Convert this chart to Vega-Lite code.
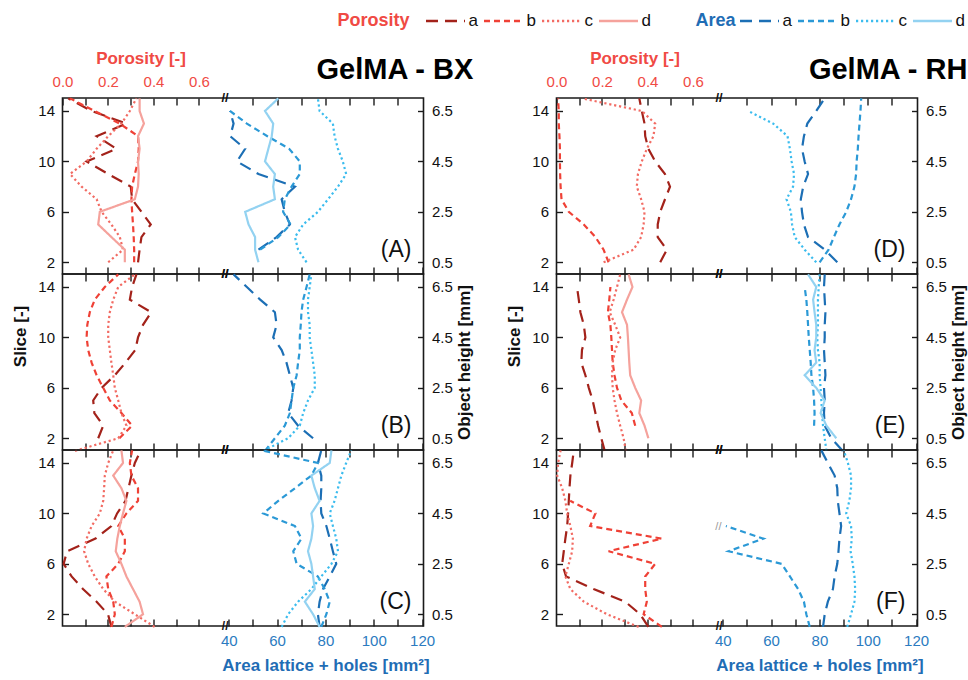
{
"$schema": "https://vega.github.io/schema/vega-lite/v6.json",
"padding": {"left": 10.5, "top": 0, "right": 0, "bottom": 0},
"config": {
 "font": "Liberation Sans",
 "view": {"stroke": "#1a1a1a", "strokeWidth": 1.6},
 "axis": {"domain": false, "grid": false, "ticks": true, "tickSize": -7, "tickColor": "#1a1a1a", "tickWidth": 1.4, "labelFont": "Liberation Sans", "labelFontSize": 15, "labelColor": "#111", "labelFlush": false, "labelOverlap": false, "labelPadding": 10, "titleFont": "Liberation Sans", "titleFontSize": 17, "titleFontWeight": "bold", "titleColor": "#111"},
 "legend": {"orient": "none", "direction": "horizontal", "titleOrient": "left", "titleAnchor": "middle", "titleBaseline": "middle", "titleFont": "Liberation Sans", "titleFontSize": 18, "titleFontWeight": "bold", "titlePadding": 14, "symbolType": "stroke", "symbolSize": 1521, "symbolStrokeWidth": 2.6, "labelFont": "Liberation Sans", "labelFontSize": 17, "labelColor": "#111", "labelOffset": 2, "columnPadding": 0},
 "title": {"font": "Liberation Sans"}
},
"datasets": {
"por": [
{"p":"A","s":"a","sl":15,"v":0.025},{"p":"A","s":"a","sl":14,"v":0.128},{"p":"A","s":"a","sl":13,"v":0.281},{"p":"A","s":"a","sl":12,"v":0.15},{"p":"A","s":"a","sl":11,"v":0.237},{"p":"A","s":"a","sl":10,"v":0.106},{"p":"A","s":"a","sl":9,"v":0.201},{"p":"A","s":"a","sl":8,"v":0.3},{"p":"A","s":"a","sl":7,"v":0.306},{"p":"A","s":"a","sl":6,"v":0.347},{"p":"A","s":"a","sl":5,"v":0.388},{"p":"A","s":"a","sl":4,"v":0.347},{"p":"A","s":"a","sl":3,"v":0.339},{"p":"A","s":"a","sl":2,"v":0.332},
{"p":"A","s":"b","sl":15,"v":0.033},{"p":"A","s":"b","sl":14,"v":0.141},{"p":"A","s":"b","sl":13,"v":0.252},{"p":"A","s":"b","sl":12,"v":0.332},{"p":"A","s":"b","sl":11,"v":0.335},{"p":"A","s":"b","sl":10,"v":0.332},{"p":"A","s":"b","sl":9,"v":0.318},{"p":"A","s":"b","sl":8,"v":0.306},{"p":"A","s":"b","sl":7,"v":0.303},{"p":"A","s":"b","sl":6,"v":0.306},{"p":"A","s":"b","sl":5,"v":0.31},{"p":"A","s":"b","sl":4,"v":0.313},{"p":"A","s":"b","sl":3,"v":0.315},{"p":"A","s":"b","sl":2,"v":0.315},
{"p":"A","s":"c","sl":15,"v":0.325},{"p":"A","s":"c","sl":14,"v":0.296},{"p":"A","s":"c","sl":13,"v":0.259},{"p":"A","s":"c","sl":12,"v":0.201},{"p":"A","s":"c","sl":11,"v":0.15},{"p":"A","s":"c","sl":10,"v":0.106},{"p":"A","s":"c","sl":9,"v":0.033},{"p":"A","s":"c","sl":8,"v":0.084},{"p":"A","s":"c","sl":7,"v":0.15},{"p":"A","s":"c","sl":6,"v":0.172},{"p":"A","s":"c","sl":5,"v":0.215},{"p":"A","s":"c","sl":4,"v":0.252},{"p":"A","s":"c","sl":3,"v":0.266},{"p":"A","s":"c","sl":2,"v":0.201},
{"p":"A","s":"d","sl":15,"v":0.339},{"p":"A","s":"d","sl":14,"v":0.339},{"p":"A","s":"d","sl":13,"v":0.358},{"p":"A","s":"d","sl":12,"v":0.332},{"p":"A","s":"d","sl":11,"v":0.339},{"p":"A","s":"d","sl":10,"v":0.332},{"p":"A","s":"d","sl":9,"v":0.335},{"p":"A","s":"d","sl":8,"v":0.332},{"p":"A","s":"d","sl":7,"v":0.318},{"p":"A","s":"d","sl":6,"v":0.164},{"p":"A","s":"d","sl":5,"v":0.157},{"p":"A","s":"d","sl":4,"v":0.215},{"p":"A","s":"d","sl":3,"v":0.274},{"p":"A","s":"d","sl":2,"v":0.274},
{"p":"B","s":"a","sl":15,"v":0.325},{"p":"B","s":"a","sl":14,"v":0.306},{"p":"B","s":"a","sl":13,"v":0.296},{"p":"B","s":"a","sl":12,"v":0.39},{"p":"B","s":"a","sl":11,"v":0.354},{"p":"B","s":"a","sl":10,"v":0.332},{"p":"B","s":"a","sl":9,"v":0.32},{"p":"B","s":"a","sl":8,"v":0.277},{"p":"B","s":"a","sl":7,"v":0.23},{"p":"B","s":"a","sl":6,"v":0.172},{"p":"B","s":"a","sl":5,"v":0.135},{"p":"B","s":"a","sl":4,"v":0.14},{"p":"B","s":"a","sl":3,"v":0.179},{"p":"B","s":"a","sl":2,"v":0.157},
{"p":"B","s":"b","sl":15,"v":0.245},{"p":"B","s":"b","sl":14,"v":0.186},{"p":"B","s":"b","sl":13,"v":0.142},{"p":"B","s":"b","sl":12,"v":0.12},{"p":"B","s":"b","sl":11,"v":0.109},{"p":"B","s":"b","sl":10,"v":0.106},{"p":"B","s":"b","sl":9,"v":0.113},{"p":"B","s":"b","sl":8,"v":0.128},{"p":"B","s":"b","sl":7,"v":0.15},{"p":"B","s":"b","sl":6,"v":0.179},{"p":"B","s":"b","sl":5,"v":0.208},{"p":"B","s":"b","sl":4,"v":0.259},{"p":"B","s":"b","sl":3,"v":0.306},{"p":"B","s":"b","sl":2,"v":0.25},
{"p":"B","s":"c","sl":15,"v":0.318},{"p":"B","s":"c","sl":14,"v":0.245},{"p":"B","s":"c","sl":13,"v":0.223},{"p":"B","s":"c","sl":12,"v":0.208},{"p":"B","s":"c","sl":11,"v":0.201},{"p":"B","s":"c","sl":10,"v":0.201},{"p":"B","s":"c","sl":9,"v":0.208},{"p":"B","s":"c","sl":8,"v":0.215},{"p":"B","s":"c","sl":7,"v":0.223},{"p":"B","s":"c","sl":6,"v":0.23},{"p":"B","s":"c","sl":5,"v":0.245},{"p":"B","s":"c","sl":4,"v":0.259},{"p":"B","s":"c","sl":3,"v":0.281},{"p":"B","s":"c","sl":2,"v":0.245},{"p":"B","s":"c","sl":1,"v":0.055},
{"p":"C","s":"a","sl":15,"v":0.344},{"p":"C","s":"a","sl":14,"v":0.318},{"p":"C","s":"a","sl":13,"v":0.303},{"p":"C","s":"a","sl":12,"v":0.29},{"p":"C","s":"a","sl":11,"v":0.277},{"p":"C","s":"a","sl":10,"v":0.24},{"p":"C","s":"a","sl":9,"v":0.215},{"p":"C","s":"a","sl":8,"v":0.145},{"p":"C","s":"a","sl":7,"v":0.02},{"p":"C","s":"a","sl":6,"v":0.005},{"p":"C","s":"a","sl":5,"v":0.04},{"p":"C","s":"a","sl":4,"v":0.09},{"p":"C","s":"a","sl":3,"v":0.15},{"p":"C","s":"a","sl":2,"v":0.2},{"p":"C","s":"a","sl":1,"v":0.215},
{"p":"C","s":"b","sl":15,"v":0.306},{"p":"C","s":"b","sl":14,"v":0.296},{"p":"C","s":"b","sl":13,"v":0.303},{"p":"C","s":"b","sl":12,"v":0.332},{"p":"C","s":"b","sl":11,"v":0.332},{"p":"C","s":"b","sl":10,"v":0.281},{"p":"C","s":"b","sl":9,"v":0.245},{"p":"C","s":"b","sl":8,"v":0.274},{"p":"C","s":"b","sl":7,"v":0.274},{"p":"C","s":"b","sl":6,"v":0.245},{"p":"C","s":"b","sl":5,"v":0.193},{"p":"C","s":"b","sl":4,"v":0.201},{"p":"C","s":"b","sl":3,"v":0.223},{"p":"C","s":"b","sl":2,"v":0.23},{"p":"C","s":"b","sl":1,"v":0.215},
{"p":"C","s":"c","sl":15,"v":0.223},{"p":"C","s":"c","sl":14,"v":0.201},{"p":"C","s":"c","sl":13,"v":0.186},{"p":"C","s":"c","sl":12,"v":0.183},{"p":"C","s":"c","sl":11,"v":0.179},{"p":"C","s":"c","sl":10,"v":0.164},{"p":"C","s":"c","sl":9,"v":0.128},{"p":"C","s":"c","sl":8,"v":0.106},{"p":"C","s":"c","sl":7,"v":0.095},{"p":"C","s":"c","sl":6,"v":0.113},{"p":"C","s":"c","sl":5,"v":0.142},{"p":"C","s":"c","sl":4,"v":0.179},{"p":"C","s":"c","sl":3,"v":0.23},{"p":"C","s":"c","sl":2,"v":0.318},{"p":"C","s":"c","sl":1,"v":0.405},
{"p":"C","s":"d","sl":15,"v":0.259},{"p":"C","s":"d","sl":14,"v":0.266},{"p":"C","s":"d","sl":13,"v":0.223},{"p":"C","s":"d","sl":12,"v":0.259},{"p":"C","s":"d","sl":11,"v":0.281},{"p":"C","s":"d","sl":10,"v":0.266},{"p":"C","s":"d","sl":9,"v":0.252},{"p":"C","s":"d","sl":8,"v":0.241},{"p":"C","s":"d","sl":7,"v":0.234},{"p":"C","s":"d","sl":6,"v":0.259},{"p":"C","s":"d","sl":5,"v":0.281},{"p":"C","s":"d","sl":4,"v":0.31},{"p":"C","s":"d","sl":3,"v":0.339},{"p":"C","s":"d","sl":2,"v":0.354},{"p":"C","s":"d","sl":1,"v":0.274},
{"p":"D","s":"a","sl":15,"v":0.364},{"p":"D","s":"a","sl":14,"v":0.375},{"p":"D","s":"a","sl":13,"v":0.387},{"p":"D","s":"a","sl":12,"v":0.39},{"p":"D","s":"a","sl":11,"v":0.404},{"p":"D","s":"a","sl":10,"v":0.434},{"p":"D","s":"a","sl":9,"v":0.477},{"p":"D","s":"a","sl":8,"v":0.499},{"p":"D","s":"a","sl":7,"v":0.477},{"p":"D","s":"a","sl":6,"v":0.456},{"p":"D","s":"a","sl":5,"v":0.445},{"p":"D","s":"a","sl":4,"v":0.445},{"p":"D","s":"a","sl":3,"v":0.485},{"p":"D","s":"a","sl":2,"v":0.456},
{"p":"D","s":"b","sl":15,"v":0.007},{"p":"D","s":"b","sl":14,"v":0.01},{"p":"D","s":"b","sl":13,"v":0.01},{"p":"D","s":"b","sl":12,"v":0.013},{"p":"D","s":"b","sl":11,"v":0.015},{"p":"D","s":"b","sl":10,"v":0.015},{"p":"D","s":"b","sl":9,"v":0.016},{"p":"D","s":"b","sl":8,"v":0.018},{"p":"D","s":"b","sl":7,"v":0.022},{"p":"D","s":"b","sl":6,"v":0.054},{"p":"D","s":"b","sl":5,"v":0.12},{"p":"D","s":"b","sl":4,"v":0.171},{"p":"D","s":"b","sl":3,"v":0.207},{"p":"D","s":"b","sl":2,"v":0.229},
{"p":"D","s":"c","sl":15,"v":0.112},{"p":"D","s":"c","sl":14,"v":0.375},{"p":"D","s":"c","sl":13,"v":0.434},{"p":"D","s":"c","sl":12,"v":0.426},{"p":"D","s":"c","sl":11,"v":0.397},{"p":"D","s":"c","sl":10,"v":0.375},{"p":"D","s":"c","sl":9,"v":0.358},{"p":"D","s":"c","sl":8,"v":0.353},{"p":"D","s":"c","sl":7,"v":0.372},{"p":"D","s":"c","sl":6,"v":0.387},{"p":"D","s":"c","sl":5,"v":0.383},{"p":"D","s":"c","sl":4,"v":0.372},{"p":"D","s":"c","sl":3,"v":0.339},{"p":"D","s":"c","sl":2,"v":0.207},
{"p":"E","s":"a","sl":14,"v":0.09},{"p":"E","s":"a","sl":13,"v":0.098},{"p":"E","s":"a","sl":12,"v":0.105},{"p":"E","s":"a","sl":11,"v":0.12},{"p":"E","s":"a","sl":10,"v":0.127},{"p":"E","s":"a","sl":9,"v":0.112},{"p":"E","s":"a","sl":8,"v":0.109},{"p":"E","s":"a","sl":7,"v":0.127},{"p":"E","s":"a","sl":6,"v":0.142},{"p":"E","s":"a","sl":5,"v":0.159},{"p":"E","s":"a","sl":4,"v":0.171},{"p":"E","s":"a","sl":3,"v":0.183},{"p":"E","s":"a","sl":2,"v":0.197},{"p":"E","s":"a","sl":1,"v":0.212},
{"p":"E","s":"b","sl":14,"v":0.237},{"p":"E","s":"b","sl":13,"v":0.232},{"p":"E","s":"b","sl":12,"v":0.226},{"p":"E","s":"b","sl":11,"v":0.237},{"p":"E","s":"b","sl":10,"v":0.241},{"p":"E","s":"b","sl":9,"v":0.244},{"p":"E","s":"b","sl":8,"v":0.247},{"p":"E","s":"b","sl":7,"v":0.255},{"p":"E","s":"b","sl":6,"v":0.266},{"p":"E","s":"b","sl":5,"v":0.285},{"p":"E","s":"b","sl":4,"v":0.331},{"p":"E","s":"b","sl":3,"v":0.346},
{"p":"E","s":"c","sl":15,"v":0.28},{"p":"E","s":"c","sl":14,"v":0.266},{"p":"E","s":"c","sl":13,"v":0.251},{"p":"E","s":"c","sl":12,"v":0.234},{"p":"E","s":"c","sl":11,"v":0.258},{"p":"E","s":"c","sl":10,"v":0.28},{"p":"E","s":"c","sl":9,"v":0.258},{"p":"E","s":"c","sl":8,"v":0.247},{"p":"E","s":"c","sl":7,"v":0.244},{"p":"E","s":"c","sl":6,"v":0.247},{"p":"E","s":"c","sl":5,"v":0.255},{"p":"E","s":"c","sl":4,"v":0.266},{"p":"E","s":"c","sl":3,"v":0.28},{"p":"E","s":"c","sl":2,"v":0.295},{"p":"E","s":"c","sl":1,"v":0.305},
{"p":"E","s":"d","sl":15,"v":0.317},{"p":"E","s":"d","sl":14,"v":0.334},{"p":"E","s":"d","sl":13,"v":0.31},{"p":"E","s":"d","sl":12,"v":0.288},{"p":"E","s":"d","sl":11,"v":0.31},{"p":"E","s":"d","sl":10,"v":0.314},{"p":"E","s":"d","sl":9,"v":0.317},{"p":"E","s":"d","sl":8,"v":0.32},{"p":"E","s":"d","sl":7,"v":0.324},{"p":"E","s":"d","sl":6,"v":0.346},{"p":"E","s":"d","sl":5,"v":0.372},{"p":"E","s":"d","sl":4,"v":0.364},{"p":"E","s":"d","sl":3,"v":0.387},{"p":"E","s":"d","sl":2,"v":0.404},
{"p":"F","s":"a","sl":15,"v":0.076},{"p":"F","s":"a","sl":14,"v":0.069},{"p":"F","s":"a","sl":13,"v":0.061},{"p":"F","s":"a","sl":12,"v":0.057},{"p":"F","s":"a","sl":11,"v":0.054},{"p":"F","s":"a","sl":10,"v":0.051},{"p":"F","s":"a","sl":9,"v":0.047},{"p":"F","s":"a","sl":8,"v":0.039},{"p":"F","s":"a","sl":7,"v":0.032},{"p":"F","s":"a","sl":6,"v":0.025},{"p":"F","s":"a","sl":5,"v":0.042},{"p":"F","s":"a","sl":4,"v":0.163},{"p":"F","s":"a","sl":3,"v":0.302},{"p":"F","s":"a","sl":2,"v":0.368},{"p":"F","s":"a","sl":1,"v":0.404},
{"p":"F","s":"b","sl":11,"v":0.06},{"p":"F","s":"b","sl":10,"v":0.171},{"p":"F","s":"b","sl":9,"v":0.148},{"p":"F","s":"b","sl":8,"v":0.463},{"p":"F","s":"b","sl":7,"v":0.229},{"p":"F","s":"b","sl":6,"v":0.434},{"p":"F","s":"b","sl":5,"v":0.39},{"p":"F","s":"b","sl":4,"v":0.39},{"p":"F","s":"b","sl":3,"v":0.397},{"p":"F","s":"b","sl":2,"v":0.383},{"p":"F","s":"b","sl":1,"v":0.463},
{"p":"F","s":"c","sl":15,"v":0.018},{"p":"F","s":"c","sl":14,"v":0.007},{"p":"F","s":"c","sl":13,"v":0.003},{"p":"F","s":"c","sl":12,"v":0.025},{"p":"F","s":"c","sl":11,"v":0.039},{"p":"F","s":"c","sl":10,"v":0.047},{"p":"F","s":"c","sl":9,"v":0.061},{"p":"F","s":"c","sl":8,"v":0.072},{"p":"F","s":"c","sl":7,"v":0.069},{"p":"F","s":"c","sl":6,"v":0.054},{"p":"F","s":"c","sl":5,"v":0.039},{"p":"F","s":"c","sl":4,"v":0.061},{"p":"F","s":"c","sl":3,"v":0.12},{"p":"F","s":"c","sl":2,"v":0.222},{"p":"F","s":"c","sl":1,"v":0.361}
],
"area": [
{"p":"A","s":"a","sl":14,"v":40.5},{"p":"A","s":"a","sl":13,"v":42.0},{"p":"A","s":"a","sl":12,"v":40.6},{"p":"A","s":"a","sl":11,"v":46.8},{"p":"A","s":"a","sl":10,"v":43.4},{"p":"A","s":"a","sl":9,"v":52.3},{"p":"A","s":"a","sl":8,"v":67.4},{"p":"A","s":"a","sl":7,"v":61.9},{"p":"A","s":"a","sl":6,"v":63.2},{"p":"A","s":"a","sl":5,"v":65.3},{"p":"A","s":"a","sl":4,"v":59.8},{"p":"A","s":"a","sl":3,"v":52.3},
{"p":"A","s":"b","sl":14,"v":40.5},{"p":"A","s":"b","sl":13,"v":47.5},{"p":"A","s":"b","sl":12,"v":56.0},{"p":"A","s":"b","sl":11,"v":65.0},{"p":"A","s":"b","sl":10,"v":69.4},{"p":"A","s":"b","sl":9,"v":69.4},{"p":"A","s":"b","sl":8,"v":66.0},{"p":"A","s":"b","sl":7,"v":63.2},{"p":"A","s":"b","sl":6,"v":62.5},{"p":"A","s":"b","sl":5,"v":65.6},{"p":"A","s":"b","sl":4,"v":60.5},{"p":"A","s":"b","sl":3,"v":53.0},
{"p":"A","s":"c","sl":15,"v":76.9},{"p":"A","s":"c","sl":14,"v":77.6},{"p":"A","s":"c","sl":13,"v":83.1},{"p":"A","s":"c","sl":12,"v":83.8},{"p":"A","s":"c","sl":11,"v":85.2},{"p":"A","s":"c","sl":10,"v":87.2},{"p":"A","s":"c","sl":9,"v":88.6},{"p":"A","s":"c","sl":8,"v":85.2},{"p":"A","s":"c","sl":7,"v":81.1},{"p":"A","s":"c","sl":6,"v":76.9},{"p":"A","s":"c","sl":5,"v":70.8},{"p":"A","s":"c","sl":4,"v":67.4},{"p":"A","s":"c","sl":3,"v":68.7},{"p":"A","s":"c","sl":2,"v":72.2},
{"p":"A","s":"d","sl":15,"v":60.5},{"p":"A","s":"d","sl":14,"v":55.0},{"p":"A","s":"d","sl":13,"v":58.4},{"p":"A","s":"d","sl":12,"v":57.8},{"p":"A","s":"d","sl":11,"v":56.4},{"p":"A","s":"d","sl":10,"v":55.0},{"p":"A","s":"d","sl":9,"v":59.1},{"p":"A","s":"d","sl":8,"v":58.4},{"p":"A","s":"d","sl":7,"v":59.1},{"p":"A","s":"d","sl":6,"v":46.8},{"p":"A","s":"d","sl":5,"v":48.2},{"p":"A","s":"d","sl":4,"v":50.9},{"p":"A","s":"d","sl":3,"v":50.9},{"p":"A","s":"d","sl":2,"v":52.3},
{"p":"B","s":"a","sl":15,"v":42.0},{"p":"B","s":"a","sl":14,"v":47.5},{"p":"B","s":"a","sl":13,"v":53.0},{"p":"B","s":"a","sl":12,"v":59.1},{"p":"B","s":"a","sl":11,"v":59.8},{"p":"B","s":"a","sl":10,"v":58.4},{"p":"B","s":"a","sl":9,"v":61.9},{"p":"B","s":"a","sl":8,"v":63.9},{"p":"B","s":"a","sl":7,"v":65.3},{"p":"B","s":"a","sl":6,"v":66.7},{"p":"B","s":"a","sl":5,"v":66.0},{"p":"B","s":"a","sl":4,"v":64.6},{"p":"B","s":"a","sl":3,"v":68.7},{"p":"B","s":"a","sl":2,"v":74.9},
{"p":"B","s":"b","sl":15,"v":73.5},{"p":"B","s":"b","sl":14,"v":72.2},{"p":"B","s":"b","sl":13,"v":70.8},{"p":"B","s":"b","sl":12,"v":70.1},{"p":"B","s":"b","sl":11,"v":69.8},{"p":"B","s":"b","sl":10,"v":69.4},{"p":"B","s":"b","sl":9,"v":69.4},{"p":"B","s":"b","sl":8,"v":68.7},{"p":"B","s":"b","sl":7,"v":68.1},{"p":"B","s":"b","sl":6,"v":66.7},{"p":"B","s":"b","sl":5,"v":66.0},{"p":"B","s":"b","sl":4,"v":65.3},{"p":"B","s":"b","sl":3,"v":63.2},{"p":"B","s":"b","sl":2,"v":59.1},{"p":"B","s":"b","sl":1,"v":55.0},
{"p":"B","s":"c","sl":15,"v":74.2},{"p":"B","s":"c","sl":14,"v":73.5},{"p":"B","s":"c","sl":13,"v":72.8},{"p":"B","s":"c","sl":12,"v":72.8},{"p":"B","s":"c","sl":11,"v":73.5},{"p":"B","s":"c","sl":10,"v":73.5},{"p":"B","s":"c","sl":9,"v":74.2},{"p":"B","s":"c","sl":8,"v":74.9},{"p":"B","s":"c","sl":7,"v":75.6},{"p":"B","s":"c","sl":6,"v":75.6},{"p":"B","s":"c","sl":5,"v":72.8},{"p":"B","s":"c","sl":4,"v":70.8},{"p":"B","s":"c","sl":3,"v":69.4},{"p":"B","s":"c","sl":2,"v":64.6},{"p":"B","s":"c","sl":1,"v":54.3},
{"p":"C","s":"a","sl":15,"v":78.3},{"p":"C","s":"a","sl":14,"v":76.9},{"p":"C","s":"a","sl":13,"v":78.3},{"p":"C","s":"a","sl":12,"v":78.3},{"p":"C","s":"a","sl":11,"v":78.0},{"p":"C","s":"a","sl":10,"v":78.3},{"p":"C","s":"a","sl":9,"v":80.4},{"p":"C","s":"a","sl":8,"v":81.8},{"p":"C","s":"a","sl":7,"v":83.1},{"p":"C","s":"a","sl":6,"v":84.5},{"p":"C","s":"a","sl":5,"v":81.8},{"p":"C","s":"a","sl":4,"v":79.0},{"p":"C","s":"a","sl":3,"v":77.6},{"p":"C","s":"a","sl":2,"v":76.9},{"p":"C","s":"a","sl":1,"v":77.6},
{"p":"C","s":"b","sl":15,"v":53.7},{"p":"C","s":"b","sl":14,"v":76.9},{"p":"C","s":"b","sl":13,"v":74.2},{"p":"C","s":"b","sl":12,"v":67.4},{"p":"C","s":"b","sl":11,"v":60.5},{"p":"C","s":"b","sl":10,"v":54.3},{"p":"C","s":"b","sl":9,"v":67.4},{"p":"C","s":"b","sl":8,"v":70.1},{"p":"C","s":"b","sl":7,"v":66.7},{"p":"C","s":"b","sl":6,"v":68.1},{"p":"C","s":"b","sl":5,"v":76.9},{"p":"C","s":"b","sl":4,"v":79.7},{"p":"C","s":"b","sl":3,"v":81.8},{"p":"C","s":"b","sl":2,"v":80.4},{"p":"C","s":"b","sl":1,"v":78.3},
{"p":"C","s":"c","sl":15,"v":90.7},{"p":"C","s":"c","sl":14,"v":88.6},{"p":"C","s":"c","sl":13,"v":86.6},{"p":"C","s":"c","sl":12,"v":85.2},{"p":"C","s":"c","sl":11,"v":83.8},{"p":"C","s":"c","sl":10,"v":81.8},{"p":"C","s":"c","sl":9,"v":83.1},{"p":"C","s":"c","sl":8,"v":84.5},{"p":"C","s":"c","sl":7,"v":85.2},{"p":"C","s":"c","sl":6,"v":82.5},{"p":"C","s":"c","sl":5,"v":78.3},{"p":"C","s":"c","sl":4,"v":74.2},{"p":"C","s":"c","sl":3,"v":68.7},{"p":"C","s":"c","sl":2,"v":64.6},{"p":"C","s":"c","sl":1,"v":61.9},
{"p":"C","s":"d","sl":15,"v":82.5},{"p":"C","s":"d","sl":14,"v":81.8},{"p":"C","s":"d","sl":13,"v":74.2},{"p":"C","s":"d","sl":12,"v":75.6},{"p":"C","s":"d","sl":11,"v":77.6},{"p":"C","s":"d","sl":10,"v":74.2},{"p":"C","s":"d","sl":9,"v":74.9},{"p":"C","s":"d","sl":8,"v":74.2},{"p":"C","s":"d","sl":7,"v":72.8},{"p":"C","s":"d","sl":6,"v":74.2},{"p":"C","s":"d","sl":5,"v":74.9},{"p":"C","s":"d","sl":4,"v":75.6},{"p":"C","s":"d","sl":3,"v":71.5},{"p":"C","s":"d","sl":2,"v":74.9},{"p":"C","s":"d","sl":1,"v":77.6},
{"p":"D","s":"a","sl":15,"v":82.2},{"p":"D","s":"a","sl":14,"v":78.7},{"p":"D","s":"a","sl":13,"v":75.0},{"p":"D","s":"a","sl":12,"v":73.6},{"p":"D","s":"a","sl":11,"v":72.8},{"p":"D","s":"a","sl":10,"v":73.9},{"p":"D","s":"a","sl":9,"v":75.3},{"p":"D","s":"a","sl":8,"v":73.3},{"p":"D","s":"a","sl":7,"v":72.3},{"p":"D","s":"a","sl":6,"v":72.8},{"p":"D","s":"a","sl":5,"v":73.6},{"p":"D","s":"a","sl":4,"v":75.3},{"p":"D","s":"a","sl":3,"v":82.2},{"p":"D","s":"a","sl":2,"v":87.4},
{"p":"D","s":"b","sl":15,"v":97.3},{"p":"D","s":"b","sl":14,"v":97.0},{"p":"D","s":"b","sl":13,"v":96.6},{"p":"D","s":"b","sl":12,"v":96.2},{"p":"D","s":"b","sl":11,"v":95.9},{"p":"D","s":"b","sl":10,"v":95.4},{"p":"D","s":"b","sl":9,"v":95.2},{"p":"D","s":"b","sl":8,"v":94.5},{"p":"D","s":"b","sl":7,"v":93.1},{"p":"D","s":"b","sl":6,"v":91.1},{"p":"D","s":"b","sl":5,"v":88.3},{"p":"D","s":"b","sl":4,"v":86.0},{"p":"D","s":"b","sl":3,"v":83.8},{"p":"D","s":"b","sl":2,"v":80.1},
{"p":"D","s":"c","sl":14,"v":50.6},{"p":"D","s":"c","sl":13,"v":60.9},{"p":"D","s":"c","sl":12,"v":66.8},{"p":"D","s":"c","sl":11,"v":67.8},{"p":"D","s":"c","sl":10,"v":68.5},{"p":"D","s":"c","sl":9,"v":69.5},{"p":"D","s":"c","sl":8,"v":69.1},{"p":"D","s":"c","sl":7,"v":66.4},{"p":"D","s":"c","sl":6,"v":68.2},{"p":"D","s":"c","sl":5,"v":68.7},{"p":"D","s":"c","sl":4,"v":69.8},{"p":"D","s":"c","sl":3,"v":73.9},{"p":"D","s":"c","sl":2,"v":78.7},
{"p":"E","s":"a","sl":15,"v":82.2},{"p":"E","s":"a","sl":14,"v":81.9},{"p":"E","s":"a","sl":13,"v":82.2},{"p":"E","s":"a","sl":12,"v":82.5},{"p":"E","s":"a","sl":11,"v":82.2},{"p":"E","s":"a","sl":10,"v":82.2},{"p":"E","s":"a","sl":9,"v":81.9},{"p":"E","s":"a","sl":8,"v":82.2},{"p":"E","s":"a","sl":7,"v":82.5},{"p":"E","s":"a","sl":6,"v":81.9},{"p":"E","s":"a","sl":5,"v":82.2},{"p":"E","s":"a","sl":4,"v":81.9},{"p":"E","s":"a","sl":3,"v":82.2},{"p":"E","s":"a","sl":2,"v":84.9},{"p":"E","s":"a","sl":1,"v":89.7},
{"p":"E","s":"b","sl":14,"v":73.9},{"p":"E","s":"b","sl":13,"v":74.6},{"p":"E","s":"b","sl":12,"v":75.0},{"p":"E","s":"b","sl":11,"v":75.3},{"p":"E","s":"b","sl":10,"v":75.6},{"p":"E","s":"b","sl":9,"v":76.0},{"p":"E","s":"b","sl":8,"v":76.4},{"p":"E","s":"b","sl":7,"v":76.7},{"p":"E","s":"b","sl":6,"v":77.4},{"p":"E","s":"b","sl":5,"v":77.8},{"p":"E","s":"b","sl":4,"v":78.0},{"p":"E","s":"b","sl":3,"v":77.8},
{"p":"E","s":"c","sl":15,"v":80.1},{"p":"E","s":"c","sl":14,"v":79.7},{"p":"E","s":"c","sl":13,"v":79.4},{"p":"E","s":"c","sl":12,"v":79.4},{"p":"E","s":"c","sl":11,"v":79.4},{"p":"E","s":"c","sl":10,"v":79.1},{"p":"E","s":"c","sl":9,"v":79.4},{"p":"E","s":"c","sl":8,"v":80.1},{"p":"E","s":"c","sl":7,"v":80.1},{"p":"E","s":"c","sl":6,"v":80.5},{"p":"E","s":"c","sl":5,"v":80.8},{"p":"E","s":"c","sl":4,"v":81.1},{"p":"E","s":"c","sl":3,"v":81.5},{"p":"E","s":"c","sl":2,"v":82.2},{"p":"E","s":"c","sl":1,"v":82.9},
{"p":"E","s":"d","sl":15,"v":75.3},{"p":"E","s":"d","sl":14,"v":78.7},{"p":"E","s":"d","sl":13,"v":77.4},{"p":"E","s":"d","sl":12,"v":78.0},{"p":"E","s":"d","sl":11,"v":78.7},{"p":"E","s":"d","sl":10,"v":78.7},{"p":"E","s":"d","sl":9,"v":78.0},{"p":"E","s":"d","sl":8,"v":78.7},{"p":"E","s":"d","sl":7,"v":73.9},{"p":"E","s":"d","sl":6,"v":78.7},{"p":"E","s":"d","sl":5,"v":82.2},{"p":"E","s":"d","sl":4,"v":80.5},{"p":"E","s":"d","sl":3,"v":82.9},{"p":"E","s":"d","sl":2,"v":87.0},
{"p":"F","s":"a","sl":15,"v":80.8},{"p":"F","s":"a","sl":14,"v":83.5},{"p":"F","s":"a","sl":13,"v":86.3},{"p":"F","s":"a","sl":12,"v":87.4},{"p":"F","s":"a","sl":11,"v":87.6},{"p":"F","s":"a","sl":10,"v":88.3},{"p":"F","s":"a","sl":9,"v":89.0},{"p":"F","s":"a","sl":8,"v":88.3},{"p":"F","s":"a","sl":7,"v":87.9},{"p":"F","s":"a","sl":6,"v":87.4},{"p":"F","s":"a","sl":5,"v":86.3},{"p":"F","s":"a","sl":4,"v":85.6},{"p":"F","s":"a","sl":3,"v":83.5},{"p":"F","s":"a","sl":2,"v":82.2},{"p":"F","s":"a","sl":1,"v":81.5},
{"p":"F","s":"b","sl":9,"v":41.3},{"p":"F","s":"b","sl":8,"v":56.8},{"p":"F","s":"b","sl":7,"v":42.4},{"p":"F","s":"b","sl":6,"v":64.4},{"p":"F","s":"b","sl":5,"v":67.8},{"p":"F","s":"b","sl":4,"v":71.2},{"p":"F","s":"b","sl":3,"v":73.6},{"p":"F","s":"b","sl":2,"v":74.6},{"p":"F","s":"b","sl":1,"v":76.0},
{"p":"F","s":"c","sl":15,"v":90.1},{"p":"F","s":"c","sl":14,"v":91.8},{"p":"F","s":"c","sl":13,"v":93.1},{"p":"F","s":"c","sl":12,"v":93.1},{"p":"F","s":"c","sl":11,"v":92.4},{"p":"F","s":"c","sl":10,"v":91.1},{"p":"F","s":"c","sl":9,"v":93.1},{"p":"F","s":"c","sl":8,"v":93.4},{"p":"F","s":"c","sl":7,"v":92.9},{"p":"F","s":"c","sl":6,"v":93.8},{"p":"F","s":"c","sl":5,"v":94.5},{"p":"F","s":"c","sl":4,"v":94.8},{"p":"F","s":"c","sl":3,"v":94.5},{"p":"F","s":"c","sl":2,"v":93.1},{"p":"F","s":"c","sl":1,"v":91.5}
]
},
"columns": 2,
"spacing": {"row": 0, "column": 133},
"bounds": "flush",
"concat": [
{
 "title": {"text": "GelMA - BX", "anchor": "end", "fontSize": 29, "fontWeight": "bold", "color": "#000", "dx": 21, "dy": 36, "offset": 0},
 "width": 361, "height": 176,
 "resolve": {"scale": {"x": "independent", "y": "independent"}, "axis": {"x": "independent", "y": "independent"}},
 "layer": [
  {"data": {"name": "por"}, "resolve": {"axis": {"x": "independent"}}, "layer": [
   {"transform": [{"filter": "datum.p=='A' && (datum.s=='a'||datum.s=='b')"}], "mark": {"type": "line", "strokeWidth": 2.2},
    "encoding": {"x": {"field": "v", "type": "quantitative", "scale": {"domain": [0,1.587], "nice": false, "zero": false}, "axis": {"orient": "top", "values": [0,0.1,0.2,0.3,0.4,0.5,0.6], "labelExpr": "round(datum.value*10)%2==0 ? format(datum.value,'.1f') : ''", "labelColor": "#f04a44", "labelPadding": 16, "title": "Porosity [-]", "titleColor": "#f04a44", "titleX": 78, "titleAlign": "center", "titlePadding": 7}},
     "y": {"field": "sl", "type": "quantitative", "scale": {"domain": [1.07,15.03], "nice": false, "zero": false}, "axis": {"orient": "left", "values": [2,6,10,14], "tickSize": -6, "labelPadding": 14, "title": null}},
     "color": {"field": "s", "type": "nominal", "scale": {"range": ["#a3221a","#ef4136","#f26b63","#f5a29c"]}, "legend": {"title": "Porosity", "titleColor": "#f04a44", "legendX": 275, "legendY": -98, "encode": {"title": {"update": {"dy": {"value": 6}}}, "symbols": {"update": {"strokeDash": {"signal": "datum.value=='a'?[12,7]:datum.value=='b'?[6,4]:datum.value=='c'?[2.2,2.8]:[1,0]"}}}}}},
     "strokeDash": {"field": "s", "type": "nominal", "scale": {"domain": ["a","b","c","d"], "range": [[12,7],[6,4],[2.2,2.8],[1,0]]}, "legend": null},
     "order": {"field": "sl", "type": "quantitative"}}},
   {"transform": [{"filter": "datum.p=='A' && (datum.s=='c'||datum.s=='d')"}], "mark": {"type": "line", "strokeWidth": 2.2},
    "encoding": {"x": {"field": "v", "type": "quantitative", "scale": {"domain": [0,1.587], "nice": false, "zero": false}, "axis": {"orient": "bottom", "values": [0.1,0.2,0.3,0.4,0.5,0.6], "labels": false, "title": null}},
     "y": {"field": "sl", "type": "quantitative", "scale": {"domain": [1.07,15.03], "nice": false, "zero": false}, "axis": {"orient": "left", "values": [2,6,10,14], "tickSize": -6, "labelPadding": 14, "title": null}},
     "color": {"field": "s", "type": "nominal", "scale": {"range": ["#a3221a","#ef4136","#f26b63","#f5a29c"]}, "legend": {"title": "Porosity", "titleColor": "#f04a44", "legendX": 275, "legendY": -98, "encode": {"title": {"update": {"dy": {"value": 6}}}, "symbols": {"update": {"strokeDash": {"signal": "datum.value=='a'?[12,7]:datum.value=='b'?[6,4]:datum.value=='c'?[2.2,2.8]:[1,0]"}}}}}},
     "strokeDash": {"field": "s", "type": "nominal", "scale": {"domain": ["a","b","c","d"], "range": [[12,7],[6,4],[2.2,2.8],[1,0]]}, "legend": null},
     "order": {"field": "sl", "type": "quantitative"}}}
  ]},
  {"resolve": {"axis": {"x": "independent"}}, "layer": [
   {"data": {"name": "area"}, "transform": [{"filter": "datum.p=='A'"}], "mark": {"type": "line", "strokeWidth": 2.2},
    "encoding": {"x": {"field": "v", "type": "quantitative", "scale": {"domain": [-28.8,120.6], "nice": false, "zero": false}, "axis": {"orient": "bottom", "values": [50,60,70,80,90,100,110,120], "labels": false, "title": null}},
     "y": {"field": "sl", "type": "quantitative", "scale": {"domain": [1.07,15.03], "nice": false, "zero": false}, "axis": {"orient": "right", "values": [2,6,10,14], "tickSize": -6, "labelPadding": 14, "labelExpr": "format((datum.value-1)/2,'.1f')", "title": null}},
     "stroke": {"field": "s", "type": "nominal", "scale": {"range": ["#1c6fb5","#2b99d6","#3bbcee","#93d2f1"]}, "legend": {"title": "Area", "titleColor": "#1f6db5", "titlePadding": 2, "legendX": 633, "legendY": -98, "encode": {"title": {"update": {"dy": {"value": 6}}}, "symbols": {"update": {"strokeDash": {"signal": "datum.value=='a'?[12,7]:datum.value=='b'?[6,4]:datum.value=='c'?[2.2,2.8]:[1,0]"}}}}}},
     "strokeDash": {"field": "s", "type": "nominal", "scale": {"domain": ["a","b","c","d"], "range": [[12,7],[6,4],[2.2,2.8],[1,0]]}, "legend": null},
     "order": {"field": "sl", "type": "quantitative"}}},
   {"data": {"values": [{}]}, "mark": {"type": "text", "text": "(A)", "fontSize": 23, "align": "right", "baseline": "middle", "color": "#111"},
    "encoding": {"x": {"datum": 115.6, "type": "quantitative", "scale": {"domain": [-28.8,120.6], "nice": false, "zero": false}, "axis": null}, "y": {"datum": 3, "type": "quantitative", "scale": {"domain": [1.07,15.03], "nice": false, "zero": false}, "axis": {"orient": "right", "values": [2,6,10,14], "tickSize": -6, "labelPadding": 14, "labelExpr": "format((datum.value-1)/2,'.1f')", "title": null}}}},
   {"data": {"values": [{}]}, "mark": {"type": "text", "text": "//", "fontSize": 13, "fontWeight": "bold", "align": "center", "baseline": "middle", "color": "#111"},
    "encoding": {"x": {"datum": 38.5, "type": "quantitative", "scale": {"domain": [-28.8,120.6], "nice": false, "zero": false}, "axis": {"orient": "top", "values": [50,60,70,80,90,100,110], "labels": false, "title": null}}, "y": {"datum": 15.03, "type": "quantitative", "scale": {"domain": [1.07,15.03], "nice": false, "zero": false}, "axis": {"orient": "right", "values": [2,6,10,14], "tickSize": -6, "labelPadding": 14, "labelExpr": "format((datum.value-1)/2,'.1f')", "title": null}}}},
   {"data": {"values": [{}]}, "mark": {"type": "text", "text": "//", "fontSize": 13, "fontWeight": "bold", "align": "center", "baseline": "middle", "color": "#111"},
    "encoding": {"x": {"datum": 38.5, "type": "quantitative", "scale": {"domain": [-28.8,120.6], "nice": false, "zero": false}, "axis": null}, "y": {"datum": 1.07, "type": "quantitative", "scale": {"domain": [1.07,15.03], "nice": false, "zero": false}, "axis": {"orient": "right", "values": [2,6,10,14], "tickSize": -6, "labelPadding": 14, "labelExpr": "format((datum.value-1)/2,'.1f')", "title": null}}}}
  ]}
 ]
},
{
 "title": {"text": "GelMA - RH", "anchor": "end", "fontSize": 29, "fontWeight": "bold", "color": "#000", "dx": 21, "dy": 36, "offset": 0},
 "width": 361, "height": 176,
 "resolve": {"scale": {"x": "independent", "y": "independent"}, "axis": {"x": "independent", "y": "independent"}},
 "layer": [
  {"data": {"name": "por"}, "resolve": {"axis": {"x": "independent"}}, "layer": [
   {"transform": [{"filter": "datum.p=='D' && (datum.s=='a'||datum.s=='b')"}], "mark": {"type": "line", "strokeWidth": 2.2},
    "encoding": {"x": {"field": "v", "type": "quantitative", "scale": {"domain": [0,1.587], "nice": false, "zero": false}, "axis": {"orient": "top", "values": [0,0.1,0.2,0.3,0.4,0.5,0.6], "labelExpr": "round(datum.value*10)%2==0 ? format(datum.value,'.1f') : ''", "labelColor": "#f04a44", "labelPadding": 16, "title": "Porosity [-]", "titleColor": "#f04a44", "titleX": 78, "titleAlign": "center", "titlePadding": 7}},
     "y": {"field": "sl", "type": "quantitative", "scale": {"domain": [1.07,15.03], "nice": false, "zero": false}, "axis": {"orient": "left", "values": [2,6,10,14], "tickSize": -6, "labelPadding": 14, "title": null}},
     "color": {"field": "s", "type": "nominal", "scale": {"range": ["#a3221a","#ef4136","#f26b63","#f5a29c"]}, "legend": {"title": "Porosity", "titleColor": "#f04a44", "legendX": 275, "legendY": -98, "encode": {"title": {"update": {"dy": {"value": 6}}}, "symbols": {"update": {"strokeDash": {"signal": "datum.value=='a'?[12,7]:datum.value=='b'?[6,4]:datum.value=='c'?[2.2,2.8]:[1,0]"}}}}}},
     "strokeDash": {"field": "s", "type": "nominal", "scale": {"domain": ["a","b","c","d"], "range": [[12,7],[6,4],[2.2,2.8],[1,0]]}, "legend": null},
     "order": {"field": "sl", "type": "quantitative"}}},
   {"transform": [{"filter": "datum.p=='D' && (datum.s=='c'||datum.s=='d')"}], "mark": {"type": "line", "strokeWidth": 2.2},
    "encoding": {"x": {"field": "v", "type": "quantitative", "scale": {"domain": [0,1.587], "nice": false, "zero": false}, "axis": {"orient": "bottom", "values": [0.1,0.2,0.3,0.4,0.5,0.6], "labels": false, "title": null}},
     "y": {"field": "sl", "type": "quantitative", "scale": {"domain": [1.07,15.03], "nice": false, "zero": false}, "axis": {"orient": "left", "values": [2,6,10,14], "tickSize": -6, "labelPadding": 14, "title": null}},
     "color": {"field": "s", "type": "nominal", "scale": {"range": ["#a3221a","#ef4136","#f26b63","#f5a29c"]}, "legend": {"title": "Porosity", "titleColor": "#f04a44", "legendX": 275, "legendY": -98, "encode": {"title": {"update": {"dy": {"value": 6}}}, "symbols": {"update": {"strokeDash": {"signal": "datum.value=='a'?[12,7]:datum.value=='b'?[6,4]:datum.value=='c'?[2.2,2.8]:[1,0]"}}}}}},
     "strokeDash": {"field": "s", "type": "nominal", "scale": {"domain": ["a","b","c","d"], "range": [[12,7],[6,4],[2.2,2.8],[1,0]]}, "legend": null},
     "order": {"field": "sl", "type": "quantitative"}}}
  ]},
  {"resolve": {"axis": {"x": "independent"}}, "layer": [
   {"data": {"name": "area"}, "transform": [{"filter": "datum.p=='D'"}], "mark": {"type": "line", "strokeWidth": 2.2},
    "encoding": {"x": {"field": "v", "type": "quantitative", "scale": {"domain": [-28.8,120.6], "nice": false, "zero": false}, "axis": {"orient": "bottom", "values": [50,60,70,80,90,100,110,120], "labels": false, "title": null}},
     "y": {"field": "sl", "type": "quantitative", "scale": {"domain": [1.07,15.03], "nice": false, "zero": false}, "axis": {"orient": "right", "values": [2,6,10,14], "tickSize": -6, "labelPadding": 14, "labelExpr": "format((datum.value-1)/2,'.1f')", "title": null}},
     "stroke": {"field": "s", "type": "nominal", "scale": {"range": ["#1c6fb5","#2b99d6","#3bbcee","#93d2f1"]}, "legend": {"title": "Area", "titleColor": "#1f6db5", "titlePadding": 2, "legendX": 633, "legendY": -98, "encode": {"title": {"update": {"dy": {"value": 6}}}, "symbols": {"update": {"strokeDash": {"signal": "datum.value=='a'?[12,7]:datum.value=='b'?[6,4]:datum.value=='c'?[2.2,2.8]:[1,0]"}}}}}},
     "strokeDash": {"field": "s", "type": "nominal", "scale": {"domain": ["a","b","c","d"], "range": [[12,7],[6,4],[2.2,2.8],[1,0]]}, "legend": null},
     "order": {"field": "sl", "type": "quantitative"}}},
   {"data": {"values": [{}]}, "mark": {"type": "text", "text": "(D)", "fontSize": 23, "align": "right", "baseline": "middle", "color": "#111"},
    "encoding": {"x": {"datum": 115.6, "type": "quantitative", "scale": {"domain": [-28.8,120.6], "nice": false, "zero": false}, "axis": null}, "y": {"datum": 3, "type": "quantitative", "scale": {"domain": [1.07,15.03], "nice": false, "zero": false}, "axis": {"orient": "right", "values": [2,6,10,14], "tickSize": -6, "labelPadding": 14, "labelExpr": "format((datum.value-1)/2,'.1f')", "title": null}}}},
   {"data": {"values": [{}]}, "mark": {"type": "text", "text": "//", "fontSize": 13, "fontWeight": "bold", "align": "center", "baseline": "middle", "color": "#111"},
    "encoding": {"x": {"datum": 38.5, "type": "quantitative", "scale": {"domain": [-28.8,120.6], "nice": false, "zero": false}, "axis": {"orient": "top", "values": [50,60,70,80,90,100,110], "labels": false, "title": null}}, "y": {"datum": 15.03, "type": "quantitative", "scale": {"domain": [1.07,15.03], "nice": false, "zero": false}, "axis": {"orient": "right", "values": [2,6,10,14], "tickSize": -6, "labelPadding": 14, "labelExpr": "format((datum.value-1)/2,'.1f')", "title": null}}}},
   {"data": {"values": [{}]}, "mark": {"type": "text", "text": "//", "fontSize": 13, "fontWeight": "bold", "align": "center", "baseline": "middle", "color": "#111"},
    "encoding": {"x": {"datum": 38.5, "type": "quantitative", "scale": {"domain": [-28.8,120.6], "nice": false, "zero": false}, "axis": null}, "y": {"datum": 1.07, "type": "quantitative", "scale": {"domain": [1.07,15.03], "nice": false, "zero": false}, "axis": {"orient": "right", "values": [2,6,10,14], "tickSize": -6, "labelPadding": 14, "labelExpr": "format((datum.value-1)/2,'.1f')", "title": null}}}}
  ]}
 ]
},
{
 "width": 361, "height": 176,
 "resolve": {"scale": {"x": "independent", "y": "independent"}, "axis": {"x": "independent", "y": "independent"}},
 "layer": [
  {"data": {"name": "por"}, "resolve": {"axis": {"x": "independent"}}, "layer": [
   {"transform": [{"filter": "datum.p=='B' && (datum.s=='a'||datum.s=='b')"}], "mark": {"type": "line", "strokeWidth": 2.2},
    "encoding": {"x": {"field": "v", "type": "quantitative", "scale": {"domain": [0,1.587], "nice": false, "zero": false}, "axis": {"orient": "top", "values": [0.1,0.2,0.3,0.4,0.5,0.6], "labels": false, "title": null}},
     "y": {"field": "sl", "type": "quantitative", "scale": {"domain": [1.07,15.03], "nice": false, "zero": false}, "axis": {"orient": "left", "values": [2,6,10,14], "tickSize": -6, "labelPadding": 14, "title": "Slice [-]", "titlePadding": 8, "titleY": 62, "titleAlign": "center"}},
     "color": {"field": "s", "type": "nominal", "scale": {"range": ["#a3221a","#ef4136","#f26b63","#f5a29c"]}, "legend": {"title": "Porosity", "titleColor": "#f04a44", "legendX": 275, "legendY": -98, "encode": {"title": {"update": {"dy": {"value": 6}}}, "symbols": {"update": {"strokeDash": {"signal": "datum.value=='a'?[12,7]:datum.value=='b'?[6,4]:datum.value=='c'?[2.2,2.8]:[1,0]"}}}}}},
     "strokeDash": {"field": "s", "type": "nominal", "scale": {"domain": ["a","b","c","d"], "range": [[12,7],[6,4],[2.2,2.8],[1,0]]}, "legend": null},
     "order": {"field": "sl", "type": "quantitative"}}},
   {"transform": [{"filter": "datum.p=='B' && (datum.s=='c'||datum.s=='d')"}], "mark": {"type": "line", "strokeWidth": 2.2},
    "encoding": {"x": {"field": "v", "type": "quantitative", "scale": {"domain": [0,1.587], "nice": false, "zero": false}, "axis": {"orient": "bottom", "values": [0.1,0.2,0.3,0.4,0.5,0.6], "labels": false, "title": null}},
     "y": {"field": "sl", "type": "quantitative", "scale": {"domain": [1.07,15.03], "nice": false, "zero": false}, "axis": {"orient": "left", "values": [2,6,10,14], "tickSize": -6, "labelPadding": 14, "title": "Slice [-]", "titlePadding": 8, "titleY": 62, "titleAlign": "center"}},
     "color": {"field": "s", "type": "nominal", "scale": {"range": ["#a3221a","#ef4136","#f26b63","#f5a29c"]}, "legend": {"title": "Porosity", "titleColor": "#f04a44", "legendX": 275, "legendY": -98, "encode": {"title": {"update": {"dy": {"value": 6}}}, "symbols": {"update": {"strokeDash": {"signal": "datum.value=='a'?[12,7]:datum.value=='b'?[6,4]:datum.value=='c'?[2.2,2.8]:[1,0]"}}}}}},
     "strokeDash": {"field": "s", "type": "nominal", "scale": {"domain": ["a","b","c","d"], "range": [[12,7],[6,4],[2.2,2.8],[1,0]]}, "legend": null},
     "order": {"field": "sl", "type": "quantitative"}}}
  ]},
  {"resolve": {"axis": {"x": "independent"}}, "layer": [
   {"data": {"name": "area"}, "transform": [{"filter": "datum.p=='B'"}], "mark": {"type": "line", "strokeWidth": 2.2},
    "encoding": {"x": {"field": "v", "type": "quantitative", "scale": {"domain": [-28.8,120.6], "nice": false, "zero": false}, "axis": {"orient": "bottom", "values": [50,60,70,80,90,100,110,120], "labels": false, "title": null}},
     "y": {"field": "sl", "type": "quantitative", "scale": {"domain": [1.07,15.03], "nice": false, "zero": false}, "axis": {"orient": "right", "values": [2,6,10,14], "tickSize": -6, "labelPadding": 14, "labelExpr": "format((datum.value-1)/2,'.1f')", "title": "Object height [mm]", "titleAngle": 270, "titleBaseline": "top", "titlePadding": 4}},
     "stroke": {"field": "s", "type": "nominal", "scale": {"range": ["#1c6fb5","#2b99d6","#3bbcee","#93d2f1"]}, "legend": {"title": "Area", "titleColor": "#1f6db5", "titlePadding": 2, "legendX": 633, "legendY": -98, "encode": {"title": {"update": {"dy": {"value": 6}}}, "symbols": {"update": {"strokeDash": {"signal": "datum.value=='a'?[12,7]:datum.value=='b'?[6,4]:datum.value=='c'?[2.2,2.8]:[1,0]"}}}}}},
     "strokeDash": {"field": "s", "type": "nominal", "scale": {"domain": ["a","b","c","d"], "range": [[12,7],[6,4],[2.2,2.8],[1,0]]}, "legend": null},
     "order": {"field": "sl", "type": "quantitative"}}},
   {"data": {"values": [{}]}, "mark": {"type": "text", "text": "(B)", "fontSize": 23, "align": "right", "baseline": "middle", "color": "#111"},
    "encoding": {"x": {"datum": 115.6, "type": "quantitative", "scale": {"domain": [-28.8,120.6], "nice": false, "zero": false}, "axis": null}, "y": {"datum": 3, "type": "quantitative", "scale": {"domain": [1.07,15.03], "nice": false, "zero": false}, "axis": {"orient": "right", "values": [2,6,10,14], "tickSize": -6, "labelPadding": 14, "labelExpr": "format((datum.value-1)/2,'.1f')", "title": "Object height [mm]", "titleAngle": 270, "titleBaseline": "top", "titlePadding": 4}}}},
   {"data": {"values": [{}]}, "mark": {"type": "text", "text": "//", "fontSize": 13, "fontWeight": "bold", "align": "center", "baseline": "middle", "color": "#111"},
    "encoding": {"x": {"datum": 38.5, "type": "quantitative", "scale": {"domain": [-28.8,120.6], "nice": false, "zero": false}, "axis": {"orient": "top", "values": [50,60,70,80,90,100,110], "labels": false, "title": null}}, "y": {"datum": 15.03, "type": "quantitative", "scale": {"domain": [1.07,15.03], "nice": false, "zero": false}, "axis": {"orient": "right", "values": [2,6,10,14], "tickSize": -6, "labelPadding": 14, "labelExpr": "format((datum.value-1)/2,'.1f')", "title": "Object height [mm]", "titleAngle": 270, "titleBaseline": "top", "titlePadding": 4}}}},
   {"data": {"values": [{}]}, "mark": {"type": "text", "text": "//", "fontSize": 13, "fontWeight": "bold", "align": "center", "baseline": "middle", "color": "#111"},
    "encoding": {"x": {"datum": 38.5, "type": "quantitative", "scale": {"domain": [-28.8,120.6], "nice": false, "zero": false}, "axis": null}, "y": {"datum": 1.07, "type": "quantitative", "scale": {"domain": [1.07,15.03], "nice": false, "zero": false}, "axis": {"orient": "right", "values": [2,6,10,14], "tickSize": -6, "labelPadding": 14, "labelExpr": "format((datum.value-1)/2,'.1f')", "title": "Object height [mm]", "titleAngle": 270, "titleBaseline": "top", "titlePadding": 4}}}}
  ]}
 ]
},
{
 "width": 361, "height": 176,
 "resolve": {"scale": {"x": "independent", "y": "independent"}, "axis": {"x": "independent", "y": "independent"}},
 "layer": [
  {"data": {"name": "por"}, "resolve": {"axis": {"x": "independent"}}, "layer": [
   {"transform": [{"filter": "datum.p=='E' && (datum.s=='a'||datum.s=='b')"}], "mark": {"type": "line", "strokeWidth": 2.2},
    "encoding": {"x": {"field": "v", "type": "quantitative", "scale": {"domain": [0,1.587], "nice": false, "zero": false}, "axis": {"orient": "top", "values": [0.1,0.2,0.3,0.4,0.5,0.6], "labels": false, "title": null}},
     "y": {"field": "sl", "type": "quantitative", "scale": {"domain": [1.07,15.03], "nice": false, "zero": false}, "axis": {"orient": "left", "values": [2,6,10,14], "tickSize": -6, "labelPadding": 14, "title": "Slice [-]", "titlePadding": 8, "titleY": 62, "titleAlign": "center"}},
     "color": {"field": "s", "type": "nominal", "scale": {"range": ["#a3221a","#ef4136","#f26b63","#f5a29c"]}, "legend": {"title": "Porosity", "titleColor": "#f04a44", "legendX": 275, "legendY": -98, "encode": {"title": {"update": {"dy": {"value": 6}}}, "symbols": {"update": {"strokeDash": {"signal": "datum.value=='a'?[12,7]:datum.value=='b'?[6,4]:datum.value=='c'?[2.2,2.8]:[1,0]"}}}}}},
     "strokeDash": {"field": "s", "type": "nominal", "scale": {"domain": ["a","b","c","d"], "range": [[12,7],[6,4],[2.2,2.8],[1,0]]}, "legend": null},
     "order": {"field": "sl", "type": "quantitative"}}},
   {"transform": [{"filter": "datum.p=='E' && (datum.s=='c'||datum.s=='d')"}], "mark": {"type": "line", "strokeWidth": 2.2},
    "encoding": {"x": {"field": "v", "type": "quantitative", "scale": {"domain": [0,1.587], "nice": false, "zero": false}, "axis": {"orient": "bottom", "values": [0.1,0.2,0.3,0.4,0.5,0.6], "labels": false, "title": null}},
     "y": {"field": "sl", "type": "quantitative", "scale": {"domain": [1.07,15.03], "nice": false, "zero": false}, "axis": {"orient": "left", "values": [2,6,10,14], "tickSize": -6, "labelPadding": 14, "title": "Slice [-]", "titlePadding": 8, "titleY": 62, "titleAlign": "center"}},
     "color": {"field": "s", "type": "nominal", "scale": {"range": ["#a3221a","#ef4136","#f26b63","#f5a29c"]}, "legend": {"title": "Porosity", "titleColor": "#f04a44", "legendX": 275, "legendY": -98, "encode": {"title": {"update": {"dy": {"value": 6}}}, "symbols": {"update": {"strokeDash": {"signal": "datum.value=='a'?[12,7]:datum.value=='b'?[6,4]:datum.value=='c'?[2.2,2.8]:[1,0]"}}}}}},
     "strokeDash": {"field": "s", "type": "nominal", "scale": {"domain": ["a","b","c","d"], "range": [[12,7],[6,4],[2.2,2.8],[1,0]]}, "legend": null},
     "order": {"field": "sl", "type": "quantitative"}}}
  ]},
  {"resolve": {"axis": {"x": "independent"}}, "layer": [
   {"data": {"name": "area"}, "transform": [{"filter": "datum.p=='E'"}], "mark": {"type": "line", "strokeWidth": 2.2},
    "encoding": {"x": {"field": "v", "type": "quantitative", "scale": {"domain": [-28.8,120.6], "nice": false, "zero": false}, "axis": {"orient": "bottom", "values": [50,60,70,80,90,100,110,120], "labels": false, "title": null}},
     "y": {"field": "sl", "type": "quantitative", "scale": {"domain": [1.07,15.03], "nice": false, "zero": false}, "axis": {"orient": "right", "values": [2,6,10,14], "tickSize": -6, "labelPadding": 14, "labelExpr": "format((datum.value-1)/2,'.1f')", "title": "Object height [mm]", "titleAngle": 270, "titleBaseline": "top", "titlePadding": 4}},
     "stroke": {"field": "s", "type": "nominal", "scale": {"range": ["#1c6fb5","#2b99d6","#3bbcee","#93d2f1"]}, "legend": {"title": "Area", "titleColor": "#1f6db5", "titlePadding": 2, "legendX": 633, "legendY": -98, "encode": {"title": {"update": {"dy": {"value": 6}}}, "symbols": {"update": {"strokeDash": {"signal": "datum.value=='a'?[12,7]:datum.value=='b'?[6,4]:datum.value=='c'?[2.2,2.8]:[1,0]"}}}}}},
     "strokeDash": {"field": "s", "type": "nominal", "scale": {"domain": ["a","b","c","d"], "range": [[12,7],[6,4],[2.2,2.8],[1,0]]}, "legend": null},
     "order": {"field": "sl", "type": "quantitative"}}},
   {"data": {"values": [{}]}, "mark": {"type": "text", "text": "(E)", "fontSize": 23, "align": "right", "baseline": "middle", "color": "#111"},
    "encoding": {"x": {"datum": 115.6, "type": "quantitative", "scale": {"domain": [-28.8,120.6], "nice": false, "zero": false}, "axis": null}, "y": {"datum": 3, "type": "quantitative", "scale": {"domain": [1.07,15.03], "nice": false, "zero": false}, "axis": {"orient": "right", "values": [2,6,10,14], "tickSize": -6, "labelPadding": 14, "labelExpr": "format((datum.value-1)/2,'.1f')", "title": "Object height [mm]", "titleAngle": 270, "titleBaseline": "top", "titlePadding": 4}}}},
   {"data": {"values": [{}]}, "mark": {"type": "text", "text": "//", "fontSize": 13, "fontWeight": "bold", "align": "center", "baseline": "middle", "color": "#111"},
    "encoding": {"x": {"datum": 38.5, "type": "quantitative", "scale": {"domain": [-28.8,120.6], "nice": false, "zero": false}, "axis": {"orient": "top", "values": [50,60,70,80,90,100,110], "labels": false, "title": null}}, "y": {"datum": 15.03, "type": "quantitative", "scale": {"domain": [1.07,15.03], "nice": false, "zero": false}, "axis": {"orient": "right", "values": [2,6,10,14], "tickSize": -6, "labelPadding": 14, "labelExpr": "format((datum.value-1)/2,'.1f')", "title": "Object height [mm]", "titleAngle": 270, "titleBaseline": "top", "titlePadding": 4}}}},
   {"data": {"values": [{}]}, "mark": {"type": "text", "text": "//", "fontSize": 13, "fontWeight": "bold", "align": "center", "baseline": "middle", "color": "#111"},
    "encoding": {"x": {"datum": 38.5, "type": "quantitative", "scale": {"domain": [-28.8,120.6], "nice": false, "zero": false}, "axis": null}, "y": {"datum": 1.07, "type": "quantitative", "scale": {"domain": [1.07,15.03], "nice": false, "zero": false}, "axis": {"orient": "right", "values": [2,6,10,14], "tickSize": -6, "labelPadding": 14, "labelExpr": "format((datum.value-1)/2,'.1f')", "title": "Object height [mm]", "titleAngle": 270, "titleBaseline": "top", "titlePadding": 4}}}}
  ]}
 ]
},
{
 "width": 361, "height": 176,
 "resolve": {"scale": {"x": "independent", "y": "independent"}, "axis": {"x": "independent", "y": "independent"}},
 "layer": [
  {"data": {"name": "por"}, "resolve": {"axis": {"x": "independent"}}, "layer": [
   {"transform": [{"filter": "datum.p=='C' && (datum.s=='a'||datum.s=='b')"}], "mark": {"type": "line", "strokeWidth": 2.2},
    "encoding": {"x": {"field": "v", "type": "quantitative", "scale": {"domain": [0,1.587], "nice": false, "zero": false}, "axis": {"orient": "top", "values": [0.1,0.2,0.3,0.4,0.5,0.6], "labels": false, "title": null}},
     "y": {"field": "sl", "type": "quantitative", "scale": {"domain": [1.07,15.03], "nice": false, "zero": false}, "axis": {"orient": "left", "values": [2,6,10,14], "tickSize": -6, "labelPadding": 14, "title": null}},
     "color": {"field": "s", "type": "nominal", "scale": {"range": ["#a3221a","#ef4136","#f26b63","#f5a29c"]}, "legend": {"title": "Porosity", "titleColor": "#f04a44", "legendX": 275, "legendY": -98, "encode": {"title": {"update": {"dy": {"value": 6}}}, "symbols": {"update": {"strokeDash": {"signal": "datum.value=='a'?[12,7]:datum.value=='b'?[6,4]:datum.value=='c'?[2.2,2.8]:[1,0]"}}}}}},
     "strokeDash": {"field": "s", "type": "nominal", "scale": {"domain": ["a","b","c","d"], "range": [[12,7],[6,4],[2.2,2.8],[1,0]]}, "legend": null},
     "order": {"field": "sl", "type": "quantitative"}}},
   {"transform": [{"filter": "datum.p=='C' && (datum.s=='c'||datum.s=='d')"}], "mark": {"type": "line", "strokeWidth": 2.2},
    "encoding": {"x": {"field": "v", "type": "quantitative", "scale": {"domain": [0,1.587], "nice": false, "zero": false}, "axis": {"orient": "bottom", "values": [0.1,0.2,0.3,0.4,0.5,0.6], "labels": false, "title": null}},
     "y": {"field": "sl", "type": "quantitative", "scale": {"domain": [1.07,15.03], "nice": false, "zero": false}, "axis": {"orient": "left", "values": [2,6,10,14], "tickSize": -6, "labelPadding": 14, "title": null}},
     "color": {"field": "s", "type": "nominal", "scale": {"range": ["#a3221a","#ef4136","#f26b63","#f5a29c"]}, "legend": {"title": "Porosity", "titleColor": "#f04a44", "legendX": 275, "legendY": -98, "encode": {"title": {"update": {"dy": {"value": 6}}}, "symbols": {"update": {"strokeDash": {"signal": "datum.value=='a'?[12,7]:datum.value=='b'?[6,4]:datum.value=='c'?[2.2,2.8]:[1,0]"}}}}}},
     "strokeDash": {"field": "s", "type": "nominal", "scale": {"domain": ["a","b","c","d"], "range": [[12,7],[6,4],[2.2,2.8],[1,0]]}, "legend": null},
     "order": {"field": "sl", "type": "quantitative"}}}
  ]},
  {"resolve": {"axis": {"x": "independent"}}, "layer": [
   {"data": {"name": "area"}, "transform": [{"filter": "datum.p=='C'"}], "mark": {"type": "line", "strokeWidth": 2.2},
    "encoding": {"x": {"field": "v", "type": "quantitative", "scale": {"domain": [-28.8,120.6], "nice": false, "zero": false}, "axis": {"orient": "bottom", "values": [40,50,60,70,80,90,100,110,120], "labelExpr": "datum.value%20==0 ? datum.label : ''", "labelColor": "#2b7bc0", "labelPadding": 14, "title": "Area lattice + holes [mm²]", "titleColor": "#1f6db5", "titleX": 263, "titleAlign": "center", "titlePadding": 9}},
     "y": {"field": "sl", "type": "quantitative", "scale": {"domain": [1.07,15.03], "nice": false, "zero": false}, "axis": {"orient": "right", "values": [2,6,10,14], "tickSize": -6, "labelPadding": 14, "labelExpr": "format((datum.value-1)/2,'.1f')", "title": null}},
     "stroke": {"field": "s", "type": "nominal", "scale": {"range": ["#1c6fb5","#2b99d6","#3bbcee","#93d2f1"]}, "legend": {"title": "Area", "titleColor": "#1f6db5", "titlePadding": 2, "legendX": 633, "legendY": -98, "encode": {"title": {"update": {"dy": {"value": 6}}}, "symbols": {"update": {"strokeDash": {"signal": "datum.value=='a'?[12,7]:datum.value=='b'?[6,4]:datum.value=='c'?[2.2,2.8]:[1,0]"}}}}}},
     "strokeDash": {"field": "s", "type": "nominal", "scale": {"domain": ["a","b","c","d"], "range": [[12,7],[6,4],[2.2,2.8],[1,0]]}, "legend": null},
     "order": {"field": "sl", "type": "quantitative"}}},
   {"data": {"values": [{}]}, "mark": {"type": "text", "text": "(C)", "fontSize": 23, "align": "right", "baseline": "middle", "color": "#111"},
    "encoding": {"x": {"datum": 115.6, "type": "quantitative", "scale": {"domain": [-28.8,120.6], "nice": false, "zero": false}, "axis": null}, "y": {"datum": 3, "type": "quantitative", "scale": {"domain": [1.07,15.03], "nice": false, "zero": false}, "axis": {"orient": "right", "values": [2,6,10,14], "tickSize": -6, "labelPadding": 14, "labelExpr": "format((datum.value-1)/2,'.1f')", "title": null}}}},
   {"data": {"values": [{}]}, "mark": {"type": "text", "text": "//", "fontSize": 13, "fontWeight": "bold", "align": "center", "baseline": "middle", "color": "#111"},
    "encoding": {"x": {"datum": 38.5, "type": "quantitative", "scale": {"domain": [-28.8,120.6], "nice": false, "zero": false}, "axis": {"orient": "top", "values": [50,60,70,80,90,100,110], "labels": false, "title": null}}, "y": {"datum": 15.03, "type": "quantitative", "scale": {"domain": [1.07,15.03], "nice": false, "zero": false}, "axis": {"orient": "right", "values": [2,6,10,14], "tickSize": -6, "labelPadding": 14, "labelExpr": "format((datum.value-1)/2,'.1f')", "title": null}}}},
   {"data": {"values": [{}]}, "mark": {"type": "text", "text": "//", "fontSize": 12, "fontWeight": "bold", "align": "center", "baseline": "middle", "color": "#111"},
    "encoding": {"x": {"datum": 38.5, "type": "quantitative", "scale": {"domain": [-28.8,120.6], "nice": false, "zero": false}, "axis": null}, "y": {"datum": 1.07, "type": "quantitative", "scale": {"domain": [1.07,15.03], "nice": false, "zero": false}, "axis": {"orient": "right", "values": [2,6,10,14], "tickSize": -6, "labelPadding": 14, "labelExpr": "format((datum.value-1)/2,'.1f')", "title": null}}}}
  ]}
 ]
},
{
 "width": 361, "height": 176,
 "resolve": {"scale": {"x": "independent", "y": "independent"}, "axis": {"x": "independent", "y": "independent"}},
 "layer": [
  {"data": {"name": "por"}, "resolve": {"axis": {"x": "independent"}}, "layer": [
   {"transform": [{"filter": "datum.p=='F' && (datum.s=='a'||datum.s=='b')"}], "mark": {"type": "line", "strokeWidth": 2.2},
    "encoding": {"x": {"field": "v", "type": "quantitative", "scale": {"domain": [0,1.587], "nice": false, "zero": false}, "axis": {"orient": "top", "values": [0.1,0.2,0.3,0.4,0.5,0.6], "labels": false, "title": null}},
     "y": {"field": "sl", "type": "quantitative", "scale": {"domain": [1.07,15.03], "nice": false, "zero": false}, "axis": {"orient": "left", "values": [2,6,10,14], "tickSize": -6, "labelPadding": 14, "title": null}},
     "color": {"field": "s", "type": "nominal", "scale": {"range": ["#a3221a","#ef4136","#f26b63","#f5a29c"]}, "legend": {"title": "Porosity", "titleColor": "#f04a44", "legendX": 275, "legendY": -98, "encode": {"title": {"update": {"dy": {"value": 6}}}, "symbols": {"update": {"strokeDash": {"signal": "datum.value=='a'?[12,7]:datum.value=='b'?[6,4]:datum.value=='c'?[2.2,2.8]:[1,0]"}}}}}},
     "strokeDash": {"field": "s", "type": "nominal", "scale": {"domain": ["a","b","c","d"], "range": [[12,7],[6,4],[2.2,2.8],[1,0]]}, "legend": null},
     "order": {"field": "sl", "type": "quantitative"}}},
   {"transform": [{"filter": "datum.p=='F' && (datum.s=='c'||datum.s=='d')"}], "mark": {"type": "line", "strokeWidth": 2.2},
    "encoding": {"x": {"field": "v", "type": "quantitative", "scale": {"domain": [0,1.587], "nice": false, "zero": false}, "axis": {"orient": "bottom", "values": [0.1,0.2,0.3,0.4,0.5,0.6], "labels": false, "title": null}},
     "y": {"field": "sl", "type": "quantitative", "scale": {"domain": [1.07,15.03], "nice": false, "zero": false}, "axis": {"orient": "left", "values": [2,6,10,14], "tickSize": -6, "labelPadding": 14, "title": null}},
     "color": {"field": "s", "type": "nominal", "scale": {"range": ["#a3221a","#ef4136","#f26b63","#f5a29c"]}, "legend": {"title": "Porosity", "titleColor": "#f04a44", "legendX": 275, "legendY": -98, "encode": {"title": {"update": {"dy": {"value": 6}}}, "symbols": {"update": {"strokeDash": {"signal": "datum.value=='a'?[12,7]:datum.value=='b'?[6,4]:datum.value=='c'?[2.2,2.8]:[1,0]"}}}}}},
     "strokeDash": {"field": "s", "type": "nominal", "scale": {"domain": ["a","b","c","d"], "range": [[12,7],[6,4],[2.2,2.8],[1,0]]}, "legend": null},
     "order": {"field": "sl", "type": "quantitative"}}}
  ]},
  {"resolve": {"axis": {"x": "independent"}}, "layer": [
   {"data": {"name": "area"}, "transform": [{"filter": "datum.p=='F'"}], "mark": {"type": "line", "strokeWidth": 2.2},
    "encoding": {"x": {"field": "v", "type": "quantitative", "scale": {"domain": [-28.8,120.6], "nice": false, "zero": false}, "axis": {"orient": "bottom", "values": [40,50,60,70,80,90,100,110,120], "labelExpr": "datum.value%20==0 ? datum.label : ''", "labelColor": "#2b7bc0", "labelPadding": 14, "title": "Area lattice + holes [mm²]", "titleColor": "#1f6db5", "titleX": 263, "titleAlign": "center", "titlePadding": 9}},
     "y": {"field": "sl", "type": "quantitative", "scale": {"domain": [1.07,15.03], "nice": false, "zero": false}, "axis": {"orient": "right", "values": [2,6,10,14], "tickSize": -6, "labelPadding": 14, "labelExpr": "format((datum.value-1)/2,'.1f')", "title": null}},
     "stroke": {"field": "s", "type": "nominal", "scale": {"range": ["#1c6fb5","#2b99d6","#3bbcee","#93d2f1"]}, "legend": {"title": "Area", "titleColor": "#1f6db5", "titlePadding": 2, "legendX": 633, "legendY": -98, "encode": {"title": {"update": {"dy": {"value": 6}}}, "symbols": {"update": {"strokeDash": {"signal": "datum.value=='a'?[12,7]:datum.value=='b'?[6,4]:datum.value=='c'?[2.2,2.8]:[1,0]"}}}}}},
     "strokeDash": {"field": "s", "type": "nominal", "scale": {"domain": ["a","b","c","d"], "range": [[12,7],[6,4],[2.2,2.8],[1,0]]}, "legend": null},
     "order": {"field": "sl", "type": "quantitative"}}},
   {"data": {"values": [{}]}, "mark": {"type": "text", "text": "(F)", "fontSize": 23, "align": "right", "baseline": "middle", "color": "#111"},
    "encoding": {"x": {"datum": 115.6, "type": "quantitative", "scale": {"domain": [-28.8,120.6], "nice": false, "zero": false}, "axis": null}, "y": {"datum": 3, "type": "quantitative", "scale": {"domain": [1.07,15.03], "nice": false, "zero": false}, "axis": {"orient": "right", "values": [2,6,10,14], "tickSize": -6, "labelPadding": 14, "labelExpr": "format((datum.value-1)/2,'.1f')", "title": null}}}},
   {"data": {"values": [{}]}, "mark": {"type": "text", "text": "//", "fontSize": 11, "align": "center", "baseline": "middle", "color": "#999"},
    "encoding": {"x": {"datum": 38.2, "type": "quantitative", "scale": {"domain": [-28.8,120.6], "nice": false, "zero": false}, "axis": null}, "y": {"datum": 8.95, "type": "quantitative", "scale": {"domain": [1.07,15.03], "nice": false, "zero": false}, "axis": {"orient": "right", "values": [2,6,10,14], "tickSize": -6, "labelPadding": 14, "labelExpr": "format((datum.value-1)/2,'.1f')", "title": null}}}},
   {"data": {"values": [{}]}, "mark": {"type": "text", "text": "//", "fontSize": 13, "fontWeight": "bold", "align": "center", "baseline": "middle", "color": "#111"},
    "encoding": {"x": {"datum": 38.5, "type": "quantitative", "scale": {"domain": [-28.8,120.6], "nice": false, "zero": false}, "axis": {"orient": "top", "values": [50,60,70,80,90,100,110], "labels": false, "title": null}}, "y": {"datum": 15.03, "type": "quantitative", "scale": {"domain": [1.07,15.03], "nice": false, "zero": false}, "axis": {"orient": "right", "values": [2,6,10,14], "tickSize": -6, "labelPadding": 14, "labelExpr": "format((datum.value-1)/2,'.1f')", "title": null}}}},
   {"data": {"values": [{}]}, "mark": {"type": "text", "text": "//", "fontSize": 12, "fontWeight": "bold", "align": "center", "baseline": "middle", "color": "#111"},
    "encoding": {"x": {"datum": 38.5, "type": "quantitative", "scale": {"domain": [-28.8,120.6], "nice": false, "zero": false}, "axis": null}, "y": {"datum": 1.07, "type": "quantitative", "scale": {"domain": [1.07,15.03], "nice": false, "zero": false}, "axis": {"orient": "right", "values": [2,6,10,14], "tickSize": -6, "labelPadding": 14, "labelExpr": "format((datum.value-1)/2,'.1f')", "title": null}}}}
  ]}
 ]
}
]
}
